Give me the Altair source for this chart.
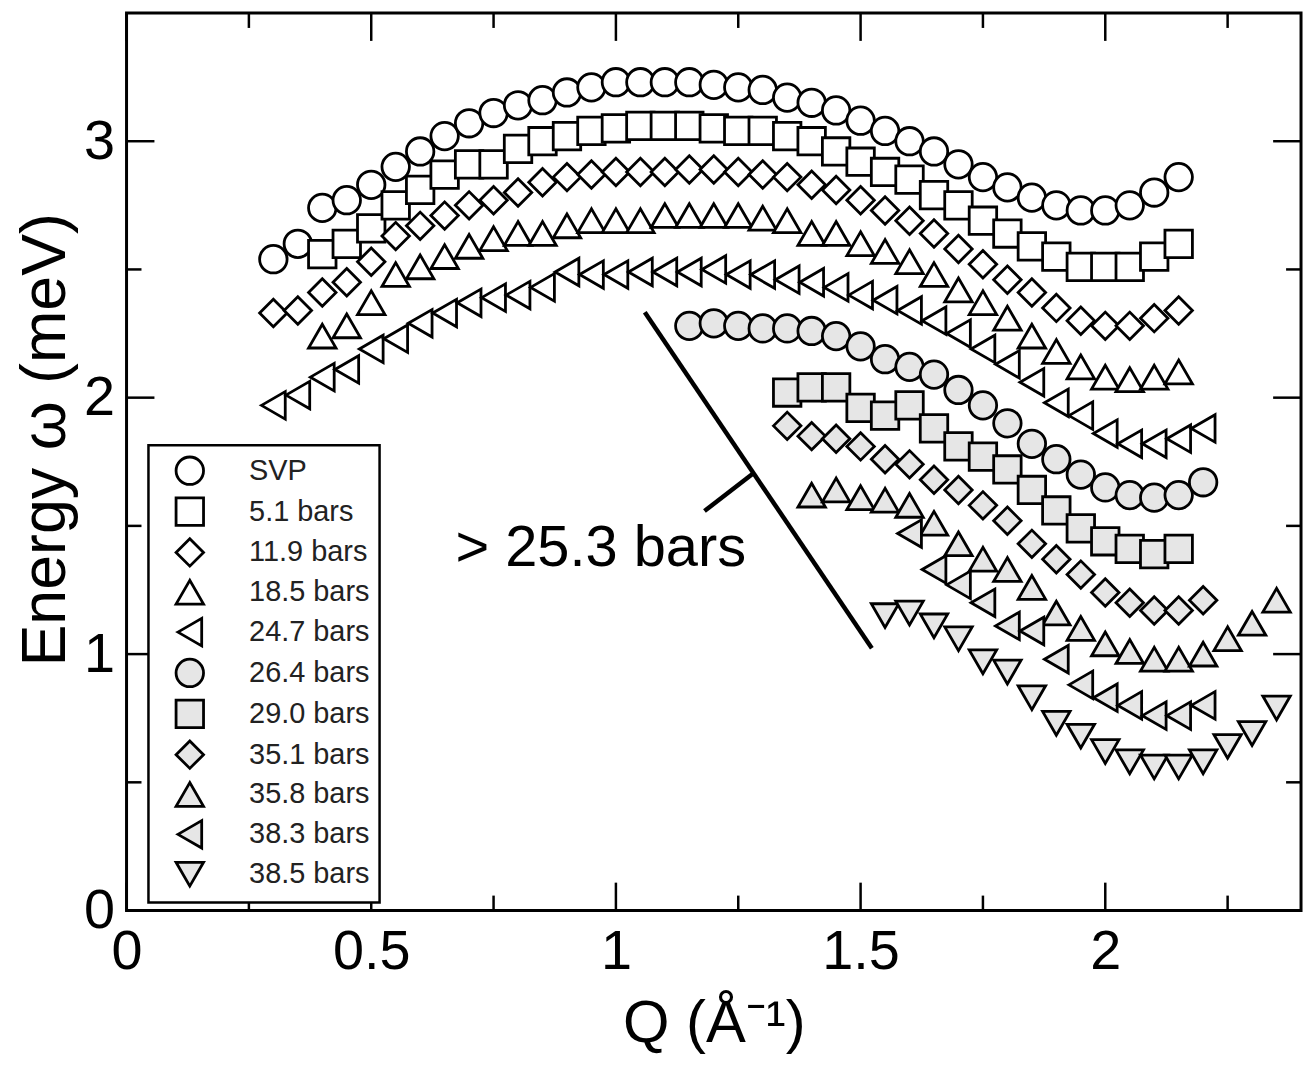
import altair as alt
import pandas as pd

# ---------------- data ----------------
series_names = ["SVP", "5.1 bars", "11.9 bars", "18.5 bars", "24.7 bars",
                "26.4 bars", "29.0 bars", "35.1 bars", "35.8 bars",
                "38.3 bars", "38.5 bars"]
series_shapes = ["circle", "square", "diamond", "triangle-up", "triangle-left",
                 "circle", "square", "diamond", "triangle-up", "triangle-left",
                 "triangle-down"]
series_fills = ["white", "white", "white", "white", "white",
                "#e6e6e6", "#e6e6e6", "#e6e6e6", "#e6e6e6", "#e6e6e6", "#e6e6e6"]
series_strokes = ["black"] * 11

q_svp = [0.30, 0.35, 0.40, 0.45, 0.50, 0.55, 0.60, 0.65, 0.70, 0.75, 0.80, 0.85, 0.90,
         0.95, 1.00, 1.05, 1.10, 1.15, 1.20, 1.25, 1.30, 1.35, 1.40, 1.45, 1.50, 1.55,
         1.60, 1.65, 1.70, 1.75, 1.80, 1.85, 1.90, 1.95, 2.00, 2.05, 2.10, 2.15]
e_svp = [2.54, 2.60, 2.74, 2.77, 2.83, 2.90, 2.96, 3.02, 3.07, 3.11, 3.14, 3.16, 3.19,
         3.21, 3.23, 3.23, 3.23, 3.23, 3.22, 3.21, 3.20, 3.17, 3.15, 3.12, 3.08, 3.04,
         3.00, 2.96, 2.91, 2.86, 2.82, 2.78, 2.75, 2.73, 2.73, 2.75, 2.80, 2.86]

q_51 = [0.40, 0.45, 0.50, 0.55, 0.60, 0.65, 0.70, 0.75, 0.80, 0.85, 0.90, 0.95, 1.00,
        1.05, 1.10, 1.15, 1.20, 1.25, 1.30, 1.35, 1.40, 1.45, 1.50, 1.55, 1.60, 1.65,
        1.70, 1.75, 1.80, 1.85, 1.90, 1.95, 2.00, 2.05, 2.10, 2.15]
e_51 = [2.56, 2.60, 2.66, 2.75, 2.81, 2.87, 2.91, 2.91, 2.97, 3.00, 3.02, 3.04, 3.05,
        3.06, 3.06, 3.06, 3.05, 3.04, 3.04, 3.02, 3.00, 2.96, 2.92, 2.88, 2.85, 2.79,
        2.75, 2.69, 2.64, 2.59, 2.55, 2.51, 2.51, 2.51, 2.55, 2.60]

q_119 = [0.30, 0.35, 0.40, 0.45, 0.50, 0.55, 0.60, 0.65, 0.70, 0.75, 0.80, 0.85, 0.90,
         0.95, 1.00, 1.05, 1.10, 1.15, 1.20, 1.25, 1.30, 1.35, 1.40, 1.45, 1.50, 1.55,
         1.60, 1.65, 1.70, 1.75, 1.80, 1.85, 1.90, 1.95, 2.00, 2.05, 2.10, 2.15]
e_119 = [2.33, 2.34, 2.41, 2.45, 2.53, 2.63, 2.67, 2.71, 2.75, 2.77, 2.80, 2.84, 2.86,
         2.87, 2.88, 2.88, 2.88, 2.89, 2.89, 2.88, 2.87, 2.86, 2.83, 2.81, 2.77, 2.73,
         2.69, 2.64, 2.58, 2.52, 2.46, 2.41, 2.35, 2.30, 2.28, 2.28, 2.31, 2.34]

q_185 = [0.40, 0.45, 0.50, 0.55, 0.60, 0.65, 0.70, 0.75, 0.80, 0.85, 0.90, 0.95, 1.00,
         1.05, 1.10, 1.15, 1.20, 1.25, 1.30, 1.35, 1.40, 1.45, 1.50, 1.55, 1.60, 1.65,
         1.70, 1.75, 1.80, 1.85, 1.90, 1.95, 2.00, 2.05, 2.10, 2.15]
e_185 = [2.24, 2.28, 2.37, 2.48, 2.51, 2.55, 2.59, 2.62, 2.64, 2.64, 2.67, 2.69, 2.69,
         2.69, 2.71, 2.71, 2.71, 2.71, 2.70, 2.69, 2.64, 2.64, 2.60, 2.57, 2.53, 2.48,
         2.42, 2.37, 2.31, 2.24, 2.18, 2.12, 2.08, 2.07, 2.08, 2.10]

q_247 = [0.30, 0.35, 0.40, 0.45, 0.50, 0.55, 0.60, 0.65, 0.70, 0.75, 0.80, 0.85, 0.90,
         0.95, 1.00, 1.05, 1.10, 1.15, 1.20, 1.25, 1.30, 1.35, 1.40, 1.45, 1.50, 1.55,
         1.60, 1.65, 1.70, 1.75, 1.80, 1.85, 1.90, 1.95, 2.00, 2.05, 2.10, 2.15, 2.20]
e_247 = [1.97, 2.01, 2.08, 2.11, 2.19, 2.23, 2.29, 2.33, 2.37, 2.39, 2.40, 2.43, 2.49,
         2.48, 2.48, 2.49, 2.49, 2.49, 2.50, 2.48, 2.48, 2.46, 2.45, 2.43, 2.40, 2.38,
         2.34, 2.30, 2.25, 2.19, 2.13, 2.06, 1.98, 1.93, 1.86, 1.82, 1.82, 1.84, 1.88]

q_264 = [1.15, 1.20, 1.25, 1.30, 1.35, 1.40, 1.45, 1.50, 1.55, 1.60, 1.65, 1.70, 1.75,
         1.80, 1.85, 1.90, 1.95, 2.00, 2.05, 2.10, 2.15, 2.20]
e_264 = [2.28, 2.29, 2.28, 2.27, 2.27, 2.26, 2.24, 2.20, 2.15, 2.12, 2.09, 2.03, 1.97,
         1.90, 1.82, 1.76, 1.70, 1.65, 1.62, 1.61, 1.62, 1.67]

q_290 = [1.35, 1.40, 1.45, 1.50, 1.55, 1.60, 1.65, 1.70, 1.75, 1.80, 1.85, 1.90, 1.95,
         2.00, 2.05, 2.10, 2.15]
e_290 = [2.02, 2.04, 2.04, 1.96, 1.93, 1.97, 1.88, 1.81, 1.77, 1.72, 1.64, 1.56, 1.49,
         1.44, 1.41, 1.39, 1.41]

q_351 = [1.35, 1.40, 1.45, 1.50, 1.55, 1.60, 1.65, 1.70, 1.75, 1.80, 1.85, 1.90, 1.95,
         2.00, 2.05, 2.10, 2.15, 2.20]
e_351 = [1.89, 1.85, 1.84, 1.81, 1.76, 1.74, 1.68, 1.64, 1.58, 1.52, 1.43, 1.37, 1.31,
         1.24, 1.20, 1.17, 1.17, 1.21]

q_358 = [1.40, 1.45, 1.50, 1.55, 1.60, 1.65, 1.70, 1.75, 1.80, 1.85, 1.90, 1.95, 2.00,
         2.05, 2.10, 2.15, 2.20, 2.25, 2.30, 2.35]
e_358 = [1.62, 1.64, 1.61, 1.60, 1.58, 1.51, 1.43, 1.37, 1.33, 1.26, 1.16, 1.10, 1.04,
         1.01, 0.98, 0.98, 1.00, 1.06, 1.12, 1.21]

q_383 = [1.60, 1.65, 1.70, 1.75, 1.80, 1.85, 1.90, 1.95, 2.00, 2.05, 2.10, 2.15, 2.20]
e_383 = [1.47, 1.33, 1.27, 1.20, 1.11, 1.09, 0.98, 0.88, 0.83, 0.80, 0.76, 0.76, 0.80]

q_385 = [1.55, 1.60, 1.65, 1.70, 1.75, 1.80, 1.85, 1.90, 1.95, 2.00, 2.05, 2.10, 2.15,
         2.20, 2.25, 2.30, 2.35]
e_385 = [1.15, 1.16, 1.11, 1.06, 0.97, 0.93, 0.83, 0.73, 0.68, 0.62, 0.58, 0.56, 0.56,
         0.58, 0.64, 0.69, 0.79]

series_q = [q_svp, q_51, q_119, q_185, q_247, q_264, q_290, q_351, q_358, q_383, q_385]
series_e = [e_svp, e_51, e_119, e_185, e_247, e_264, e_290, e_351, e_358, e_383, e_385]

# axis tick values
x_major_ticks = [0, 0.5, 1, 1.5, 2]
x_minor_ticks = [0.25, 0.75, 1.25, 1.75, 2.25]
y_major_ticks = [0, 1, 2, 3]
y_minor_ticks = [0.5, 1.5, 2.5]

# annotation ("> 25.3 bars" with its bracket line)
annot_seg_q1 = [1.059, 1.181]
annot_seg_e1 = [2.333, 1.558]
annot_seg_q2 = [1.523, 1.279]
annot_seg_e2 = [1.023, 1.702]
annot_text = "> 25.3 bars"
annot_text_q = 0.672
annot_text_e = 1.345

# ---------------- build tables ----------------
rows = []
for name, qs, es in zip(series_names, series_q, series_e):
    for q, e in zip(qs, es):
        rows.append({"series": name, "q": q, "e": e})
df = pd.DataFrame(rows)

W, H = 1179, 901
FONT = "Liberation Sans"
MAJ, MIN = 28, 15

xs = alt.Scale(domain=[0, 2.4], nice=False, zero=False)
ys = alt.Scale(domain=[0, 3.5], nice=False, zero=False)

x_axis = alt.Axis(
    values=x_major_ticks, format="~g", ticks=False, tickSize=0, domain=False,
    grid=False, labelFlush=False, labelPadding=14, labelFontSize=56,
    labelFont=FONT, labelColor="black",
    title="Q (Å⁻¹)", titleFont=FONT, titleFontSize=60, titleFontWeight="normal",
    titleColor="black", titleY=131, titleBaseline="alphabetic")
y_axis = alt.Axis(
    values=y_major_ticks, format="~g", ticks=False, tickSize=0, domain=False,
    grid=False, labelPadding=12, labelFontSize=56, labelFont=FONT,
    labelColor="black",
    title="Energy ω (meV)", titleFont=FONT, titleFontSize=63,
    titleFontWeight="normal", titleColor="black", titleX=-62, titleY=428,
    titleAngle=270, titleAlign="center", titleBaseline="alphabetic")

legend_kw = dict(
    title=None, orient="none", legendX=22, legendY=434, padding=10,
    fillColor="white", strokeColor="black", symbolSize=760,
    symbolStrokeWidth=2.8, symbolStrokeColor="black", symbolOffset=16,
    labelOffset=44, labelFontSize=29, labelFont=FONT, labelColor="#222222",
    rowPadding=2, direction="vertical",
)

points = alt.Chart(df).mark_point(
    filled=True, size=760, strokeWidth=2.8, opacity=1
).encode(
    x=alt.X("q:Q", scale=xs, axis=x_axis),
    y=alt.Y("e:Q", scale=ys, axis=y_axis),
    shape=alt.Shape("series:N", scale=alt.Scale(domain=series_names, range=series_shapes),
                    legend=alt.Legend(**legend_kw)),
    fill=alt.Fill("series:N", scale=alt.Scale(domain=series_names, range=series_fills),
                  legend=alt.Legend(**legend_kw)),
    stroke=alt.Stroke("series:N", scale=alt.Scale(domain=series_names, range=series_strokes),
                      legend=alt.Legend(**legend_kw)),
)


def vticks(vals, y0, y1):
    return alt.Chart(pd.DataFrame({"q": vals})).mark_rule(
        color="black", strokeWidth=2.5).encode(
        x=alt.X("q:Q", scale=xs, axis=x_axis), y=alt.value(y0), y2=alt.value(y1))


def hticks(vals, x0, x1):
    return alt.Chart(pd.DataFrame({"e": vals})).mark_rule(
        color="black", strokeWidth=2.5).encode(
        y=alt.Y("e:Q", scale=ys, axis=y_axis), x=alt.value(x0), x2=alt.value(x1))


tick_layers = [
    vticks(x_major_ticks, H, H - MAJ), vticks(x_minor_ticks, H, H - MIN),
    vticks(x_major_ticks, 0, MAJ), vticks(x_minor_ticks, 0, MIN),
    hticks(y_major_ticks, 0, MAJ), hticks(y_minor_ticks, 0, MIN),
    hticks(y_major_ticks, W, W - MAJ), hticks(y_minor_ticks, W, W - MIN),
]

seg_df = pd.DataFrame({"q": annot_seg_q1, "e": annot_seg_e1,
                       "q2": annot_seg_q2, "e2": annot_seg_e2})
segs = alt.Chart(seg_df).mark_rule(color="black", strokeWidth=4.5).encode(
    x=alt.X("q:Q", scale=xs, axis=x_axis), y=alt.Y("e:Q", scale=ys, axis=y_axis),
    x2="q2:Q", y2="e2:Q")

txt = alt.Chart(pd.DataFrame({"q": [annot_text_q], "e": [annot_text_e],
                              "t": [annot_text]})).mark_text(
    align="left", baseline="alphabetic", fontSize=58, font=FONT, color="black"
).encode(x=alt.X("q:Q", scale=xs, axis=x_axis), y=alt.Y("e:Q", scale=ys, axis=y_axis),
         text="t:N")

chart = alt.layer(points, *tick_layers, segs, txt).properties(
    width=W, height=H,
    autosize=alt.AutoSizeParams(type="none"),
    padding={"left": 119, "top": 3, "right": 6, "bottom": 144},
).configure_view(
    stroke="black", strokeWidth=3
).configure_legend(
    strokeWidth=2.5
)

chart.save("out.html", embed_options={"renderer": "svg", "actions": False})
